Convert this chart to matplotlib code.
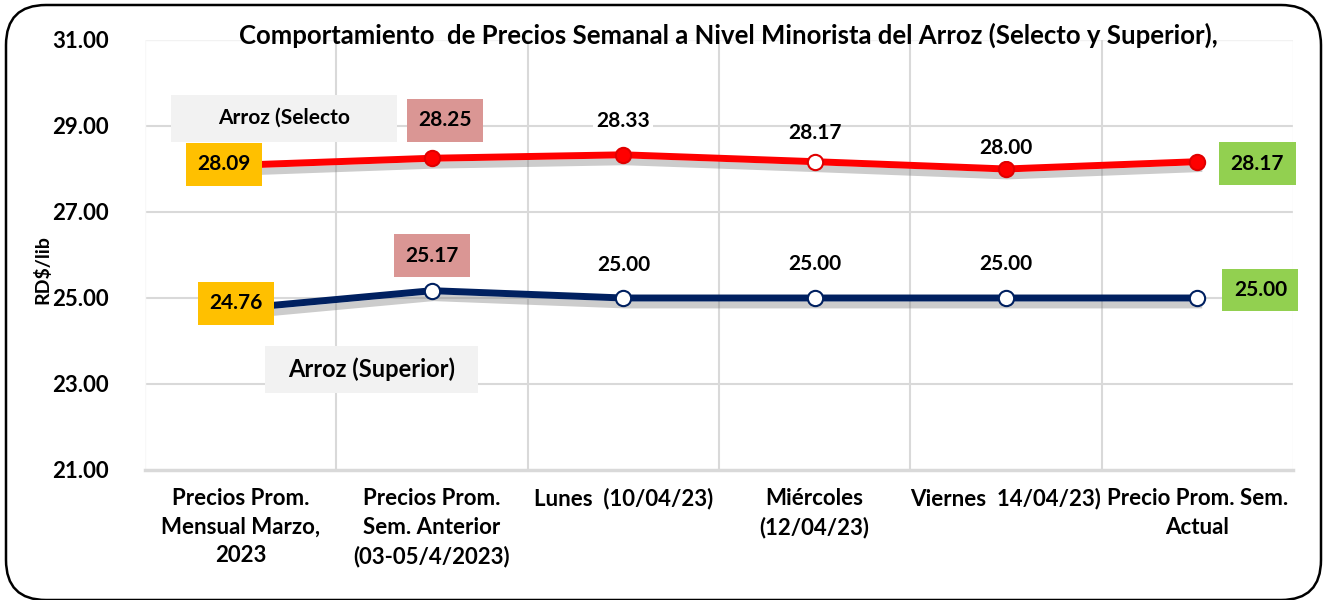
import matplotlib.pyplot as plt
import matplotlib.patches as patches
import matplotlib.patheffects as pe

# datos
categorias = ["Precios Prom.\nMensual Marzo,\n2023",
              "Precios Prom.\nSem. Anterior\n(03-05/4/2023)",
              "Lunes  (10/04/23)",
              "Miércoles\n(12/04/23)",
              "Viernes  14/04/23)",
              "Precio Prom. Sem.\nActual"]
selecto = [28.09, 28.25, 28.33, 28.17, 28.00, 28.17]
superior = [24.76, 25.17, 25.00, 25.00, 25.00, 25.00]

plt.rcParams['font.family'] = ['Lato', 'DejaVu Sans']
plt.rcParams['font.weight'] = 'bold'

fig = plt.figure(figsize=(13.27, 6), dpi=100)
ax = fig.add_axes([145/1327, 1-470/600, (1293-145)/1327, 430/600])

# borde redondeado de la figura
borde = patches.FancyBboxPatch((0.06, 0.0), 13.15, 5.95,
                               boxstyle="round,pad=0,rounding_size=0.4",
                               transform=fig.dpi_scale_trans, fill=False,
                               edgecolor='black', linewidth=1.8, clip_on=False)
fig.patches.append(borde)

x = list(range(len(categorias)))
sombra = [pe.SimpleLineShadow(offset=(1, -5), shadow_color='gray', alpha=0.4), pe.Normal()]

ax.plot(x, selecto, color='#FF0000', linewidth=5, zorder=3, path_effects=sombra)
ax.plot(x, superior, color='#002060', linewidth=5, zorder=3, path_effects=sombra)

# marcadores
caras_sel = ['#FF0000', '#FF0000', '#FF0000', 'white', '#FF0000', '#FF0000']
for i in x:
    ax.plot(x[i], selecto[i], 'o', markersize=11, markerfacecolor=caras_sel[i],
            markeredgecolor='#E00000', markeredgewidth=1.5, zorder=4)
    ax.plot(x[i], superior[i], 'o', markersize=11, markerfacecolor='white',
            markeredgecolor='#002060', markeredgewidth=1.5, zorder=4)

# etiquetas de datos: (desplazamiento px, color de caja)
amarillo, rosa, verde = '#FFC000', '#DA9694', '#92D050'
sel_pos = [(-17, 1), (13, 38), (0, 34), (0, 29), (0, 21), (60, -2)]
sel_box = [amarillo, rosa, 'white', None, 'white', verde]
sup_pos = [(-5, 5), (0, 35), (0, 33), (0, 34), (0, 34), (63, 8)]
sup_box = [amarillo, rosa, None, None, None, verde]

def etiqueta(xi, yi, off, fc):
    bbox = None
    if fc is not None:
        pad = 0.55 if fc != 'white' else 0.15
        bbox = dict(boxstyle=f"square,pad={pad}", facecolor=fc, edgecolor='none')
    ax.annotate(f"{yi:.2f}", (xi, yi), xytext=off, textcoords='offset pixels',
                ha='center', va='center', fontsize=15, fontweight='bold',
                bbox=bbox, zorder=6)

for i in x:
    etiqueta(x[i], selecto[i], sel_pos[i], sel_box[i])
    etiqueta(x[i], superior[i], sup_pos[i], sup_box[i])

# nombres de series (cajas grises)
ax.add_patch(patches.Rectangle((0.0226, 0.763), 0.197, 0.109, transform=ax.transAxes,
                               facecolor='#F2F2F2', edgecolor='none', zorder=5))
ax.text(0.121, 0.819, "Arroz (Selecto", transform=ax.transAxes, ha='center', va='center',
        fontsize=15, zorder=6)
ax.add_patch(patches.Rectangle((0.1045, 0.179), 0.1855, 0.109, transform=ax.transAxes,
                               facecolor='#F2F2F2', edgecolor='none', zorder=5))
ax.text(0.197, 0.234, "Arroz (Superior)", transform=ax.transAxes, ha='center', va='center',
        fontsize=17, zorder=6)

# ejes
ax.set_xlim(-0.5, 5.5)
ax.set_ylim(21, 31)
ax.set_yticks([21, 23, 25, 27, 29, 31])
ax.set_yticklabels([f"{v:.2f}" for v in [21, 23, 25, 27, 29, 31]], fontsize=16, fontweight='bold')
ax.set_xticks(x)
ax.set_xticklabels(categorias, fontsize=16, fontweight='bold', linespacing=1.45)
ax.tick_params(axis='both', length=0)
ax.tick_params(axis='y', pad=26)
ax.tick_params(axis='x', pad=13)

for v in [23, 25, 27, 29]:
    ax.axhline(v, color='#D9D9D9', linewidth=1.5, zorder=1)
ax.axhline(31, color='#F2F2F2', linewidth=1, zorder=1)
for b in [0.5, 1.5, 2.5, 3.5, 4.5]:
    ax.axvline(b, color='#D9D9D9', linewidth=1.5, zorder=1)
ax.axvline(5.5, color='#F0F0F0', linewidth=1, zorder=1)
ax.axvline(-0.5, color='#F8F8F8', linewidth=1, zorder=1)

for s in ['top', 'right', 'left']:
    ax.spines[s].set_visible(False)
ax.spines['bottom'].set_color('#D9D9D9')
ax.spines['bottom'].set_linewidth(2.5)

fig.text(42/1327, 1-270/600, "RD$/lib", rotation=90, ha='center', va='center',
         fontsize=14, fontweight='bold')
fig.text(728/1327, 1-35/600,
         "Comportamiento  de Precios Semanal a Nivel Minorista del Arroz (Selecto y Superior),",
         ha='center', va='center', fontsize=18.5, fontweight='bold')

fig.savefig("out.png", dpi=100)
